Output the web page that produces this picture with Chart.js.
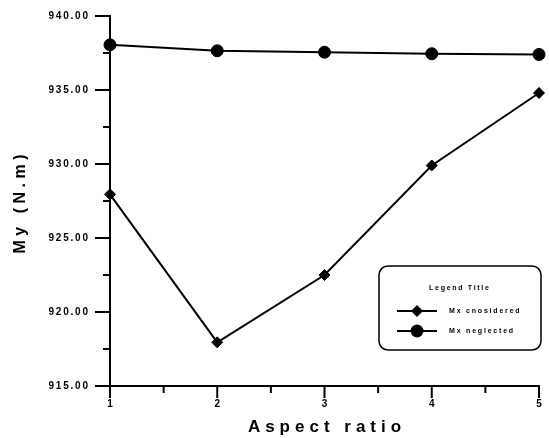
<!DOCTYPE html>
<html>
<head>
<meta charset="utf-8">
<script src="https://cdn.jsdelivr.net/npm/chart.js@4.4.1/dist/chart.umd.min.js"></script>
<style>
  html, body { margin: 0; padding: 0; background: #fff; }
  #wrap { width: 549px; height: 438px; }
</style>
</head>
<body>
<div id="wrap"><canvas id="c" width="549" height="438"></canvas></div>
<script>
const aspectRatio = [1, 2, 3, 4, 5];
const mxConsidered = [927.95, 917.95, 922.5, 929.9, 934.8];
const mxNeglected = [938.05, 937.65, 937.55, 937.45, 937.4];
const seriesNames = ["Mx cnosidered", "Mx neglected"];
const legendTitle = "Legend Title";
const xTitle = "Aspect ratio";
const yTitle = "My (N.m)";

const FONT = '"Liberation Sans", Arial, sans-serif';

function spacedText(ctx, str, x, y, size, spacing, align) {
  ctx.font = `bold ${size}px ${FONT}`;
  ctx.letterSpacing = spacing + "px";
  ctx.textAlign = align;
  // trailing spacing shifts aligned text, compensate
  let dx = 0;
  if (align === "right") dx = spacing;
  if (align === "center") dx = spacing / 2;
  ctx.fillText(str, x + dx, y);
}

function seg(ctx, x1, y1, x2, y2) {
  ctx.beginPath();
  ctx.moveTo(x1, y1);
  ctx.lineTo(x2, y2);
  ctx.stroke();
}

function marker(ctx, style, x, y, r) {
  ctx.beginPath();
  if (style === "circle") {
    ctx.arc(x, y, r, 0, Math.PI * 2);
  } else {
    ctx.moveTo(x - r, y);
    ctx.lineTo(x, y - r);
    ctx.lineTo(x + r, y);
    ctx.lineTo(x, y + r);
    ctx.closePath();
  }
  ctx.fill();
}

const decor = {
  id: "decor",
  afterDraw(chart) {
    const { ctx, chartArea: a } = chart;
    const x = chart.scales.x, y = chart.scales.y;
    ctx.save();
    ctx.strokeStyle = "#000";
    ctx.fillStyle = "#000";
    ctx.lineWidth = 2;
    ctx.textBaseline = "middle";

    // y ticks
    y.ticks.forEach(t => {
      const py = y.getPixelForValue(t.value);
      const major = Math.abs(t.value % 5) < 1e-6;
      seg(ctx, a.left - (major ? 15 : 7), py, a.left, py);
      if (major) spacedText(ctx, t.value.toFixed(2), a.left - 22, py, 10, 1.8, "right");
    });

    // x ticks
    x.ticks.forEach(t => {
      const px = x.getPixelForValue(t.value);
      const major = Math.abs(t.value % 1) < 1e-6;
      seg(ctx, px, a.bottom, px, a.bottom + (major ? 12 : 7));
      if (major) spacedText(ctx, String(t.value), px, a.bottom + 18, 10, 0, "center");
    });

    // axis titles
    spacedText(ctx, xTitle, (a.left + a.right) / 2, a.bottom + 41, 17, 5, "center");
    ctx.save();
    ctx.translate(21, 204);
    ctx.rotate(-Math.PI / 2);
    spacedText(ctx, yTitle, 0, 0, 16, 4.5, "center");
    ctx.restore();

    // legend box
    ctx.lineWidth = 1.5;
    ctx.beginPath();
    ctx.roundRect(379, 266, 162, 84, 9);
    ctx.stroke();
    spacedText(ctx, legendTitle, 459, 288, 7, 1.7, "center");
    chart.data.datasets.forEach((ds, i) => {
      const ly = 311 + i * 20;
      ctx.lineWidth = 2;
      seg(ctx, 397, ly, 437, ly);
      marker(ctx, ds.pointStyle, 417, ly, ds.pointStyle === "circle" ? 6.5 : 6);
      spacedText(ctx, ds.label, 449, ly, 7, 1.8, "left");
    });
    ctx.restore();
  }
};

new Chart(document.getElementById("c"), {
  type: "line",
  data: {
    datasets: [
      {
        label: seriesNames[0],
        data: aspectRatio.map((v, i) => ({ x: v, y: mxConsidered[i] })),
        borderColor: "#000",
        backgroundColor: "#000",
        borderWidth: 2,
        pointStyle: "rectRot",
        pointRadius: 5.5,
        pointBorderWidth: 1,
        clip: false
      },
      {
        label: seriesNames[1],
        data: aspectRatio.map((v, i) => ({ x: v, y: mxNeglected[i] })),
        borderColor: "#000",
        backgroundColor: "#000",
        borderWidth: 2,
        pointStyle: "circle",
        pointRadius: 6,
        pointBorderWidth: 1,
        clip: false
      }
    ]
  },
  options: {
    responsive: false,
    animation: false,
    layout: { padding: { left: 102, right: 10, top: 16, bottom: 44 } },
    plugins: { legend: { display: false }, tooltip: { enabled: false } },
    scales: {
      x: {
        type: "linear",
        min: 1,
        max: 5,
        ticks: { stepSize: 0.5, display: false },
        grid: { display: false },
        border: { display: true, color: "#000", width: 2 }
      },
      y: {
        min: 915,
        max: 940,
        ticks: { stepSize: 2.5, display: false },
        grid: { display: false },
        border: { display: true, color: "#000", width: 2 }
      }
    }
  },
  plugins: [decor]
});
</script>
</body>
</html>
